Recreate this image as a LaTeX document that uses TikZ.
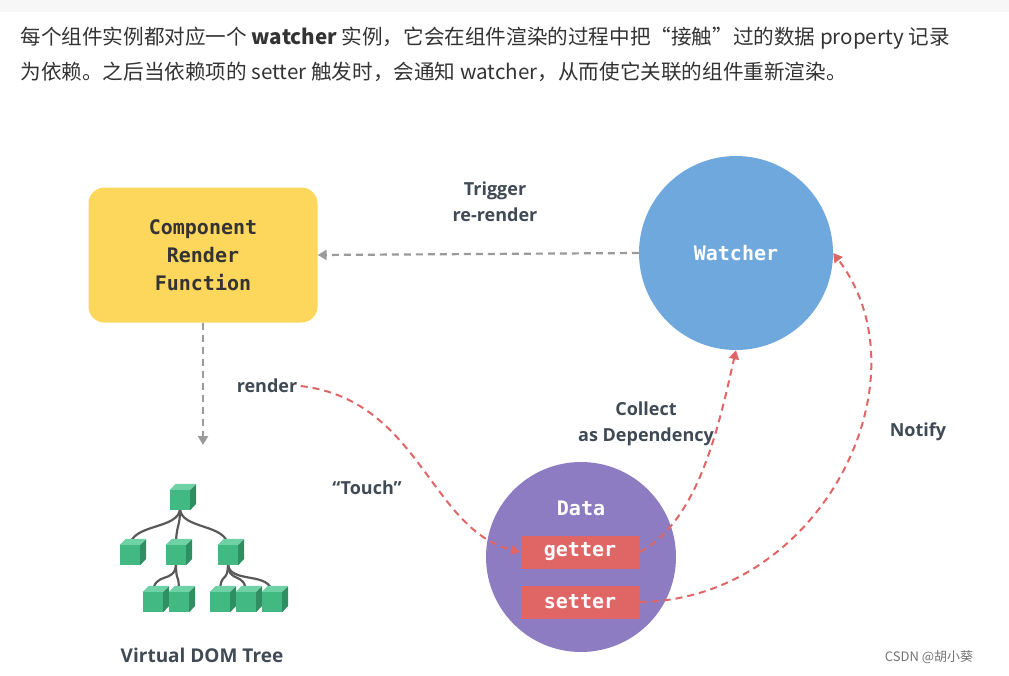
\documentclass[tikz,border=0pt]{standalone}
\usepackage{fontspec}
\setmainfont{Open Sans}
\setmonofont{DejaVu Sans Mono}
\newfontfamily\cjk{Noto Sans CJK SC}
\usetikzlibrary{arrows.meta}
\definecolor{txt}{HTML}{333333}
\definecolor{lbl}{HTML}{3F4A55}
\definecolor{yel}{HTML}{FDD65C}
\definecolor{blu}{HTML}{6FA8DC}
\definecolor{pur}{HTML}{8E7CC3}
\definecolor{rd}{HTML}{E06666}
\definecolor{gry}{HTML}{9A9A9A}
\definecolor{grn}{HTML}{42B983}
\definecolor{grnd}{HTML}{2F8F62}
\definecolor{grnl}{HTML}{6FD1A6}
\begin{document}
\begin{tikzpicture}[x=1pt,y=-1pt,
  lab/.style={font=\fontsize{18}{26}\selectfont\bfseries, text=lbl, align=center},
  mono/.style={font=\fontsize{20}{28}\ttfamily\bfseries, align=center},
  gdash/.style={gry, line width=2.2pt, dash pattern=on 7pt off 5pt, -{Triangle[length=9pt,width=10pt]}},
  rdash/.style={rd, line width=2pt, dash pattern=on 7pt off 5pt, -{Triangle[length=9pt,width=10pt]}},
  cube/.style={fill=grn, minimum size=20pt, inner sep=0pt},
  tline/.style={draw=black!65, line width=2.2pt}]
\useasboundingbox (0,0) rectangle (1009,675);
\fill[black!3] (0,0) rectangle (1009,12);
% caption
\node[anchor=west, font=\cjk\fontsize{20.6}{35}\selectfont, text=txt, align=left] (cap) at (17,54)
  {每个组件实例都对应一个 \textbf{watcher} 实例，它会在组件渲染的过程中把“接触”过的数据 property 记录\\为依赖。之后当依赖项的 setter 触发时，会通知 watcher，从而使它关联的组件重新渲染。};
% main nodes
\node[fill=yel, rounded corners=16pt, minimum width=229pt, minimum height=135pt, mono, text=txt] (crf) at (203,255)
  {Component\\Render\\Function};
\node[circle, fill=blu, minimum size=194pt, mono, text=white] (w) at (736,253) {Watcher};
\node[circle, fill=pur, minimum size=190pt] (d) at (581,557) {};
\node[mono, text=white] (dt) at (581,508) {Data};
\node[fill=rd, minimum width=119pt, minimum height=33pt, inner sep=0pt, mono, text=white] (get) at (580,552) {getter};
\node[fill=rd, minimum width=119pt, minimum height=33pt, inner sep=0pt, mono, text=white] (set) at (580,602) {setter};
% labels
\node[lab] (trig) at (495,202) {Trigger\\re-render};
\node[lab] (rend) at (267,386) {render};
\node[lab] (touch) at (367,488) {“Touch”};
\node[lab] (coll) at (646,424) {Collect\\as Dependency};
\node[lab] (noti) at (918,432) {Notify};
\node[font=\fontsize{19}{24}\selectfont\bfseries, text=lbl] (vdt) at (202,655) {Virtual DOM Tree};
\node[font=\cjk\fontsize{13}{16}\selectfont, text=black!55] (csdn) at (929,657) {CSDN @胡小葵};
% tree
\coordinate (tt) at (203,445);
\foreach \n/\x/\y in {r/180/500, a/130/555, b/176/555, c/228/555, d1/153/602, d2/179/602, e1/220/602, e2/246/602, e3/272/602}
  \coordinate (\n) at (\x,\y);
\foreach \a/\b in {r/a, r/b, r/c, b/d1, b/d2, c/e1, c/e2, c/e3}
  \draw[tline] ([yshift=-8pt]\a) .. controls ([yshift=-30pt]\a) and ([yshift=32pt]\b) .. ([yshift=8pt]\b);
\foreach \n in {r,a,b,c,d1,d2,e1,e2,e3} {
  \node[cube] (\n c) at (\n) {};
  \fill[grnl] (\n c.north west) -- ++(6,-6) -- ++(20,0) -- (\n c.north east) -- cycle;
  \fill[grnd] (\n c.north east) -- ++(6,-6) -- ++(0,20) -- (\n c.south east) -- cycle;
}
% connectors
\draw[gdash] (w.west) -- (crf.east);
\draw[gdash] (crf.south) -- (tt);
\draw[rdash] (rend.east) .. controls (420,400) and (430,530) .. (get.west);
\draw[rdash] (get.east) .. controls (700,520) and (720,420) .. (w.south);
\draw[rdash] (set.east) .. controls (820,600) and (930,380) .. (w.east);
\end{tikzpicture}
\end{document}
